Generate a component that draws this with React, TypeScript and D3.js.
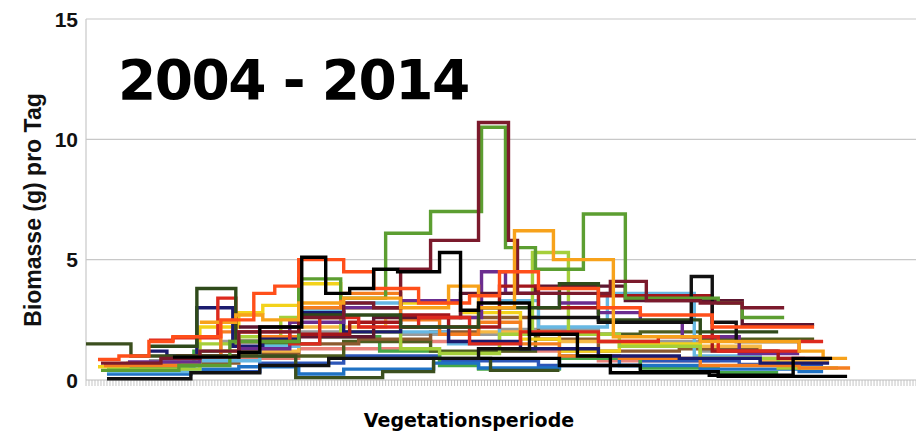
import React from 'react';
import * as d3 from 'd3';

// days of the vegetation period, biomass in g per day (step series, last point = end)
const yTicks = [0, 5, 10, 15];
const dayCount = 277;

const sOlive = [[0, 1.5], [15, 1.0], [70, 0.1], [99, 0.35], [116, 0.9], [135, 0.4], [158, 0.4]];
const sDarkGreen = [[21, 1.4], [37, 3.8], [50, 1.6], [71, 2.7], [105, 2.2], [131, 3.0], [158, 4.0], [171, 2.5], [205, 2.0], [231, 2.0]];
const sMaroon = [[5, 0.7], [25, 0.9], [38, 1.2], [51, 2.0], [71, 2.6], [86, 3.2], [96, 3.0], [105, 4.6], [115, 5.8], [131, 10.7], [141, 5.8], [144, 3.6], [175, 4.1], [187, 3.3], [205, 3.2], [219, 3.0], [233, 3.0]];
const sGreen = [[5, 0.4], [31, 0.6], [48, 1.6], [71, 4.2], [85, 3.4], [100, 6.1], [115, 7.0], [132, 10.5], [140, 5.5], [150, 4.6], [166, 6.9], [180, 3.4], [211, 3.2], [219, 2.6], [233, 2.6]];
const sOrange = [[38, 2.4], [50, 2.7], [59, 2.5], [71, 3.2], [86, 3.4], [105, 3.0], [121, 3.9], [131, 3.0], [143, 6.2], [156, 5.0], [176, 1.8], [205, 1.6], [238, 1.2], [246, 0.9], [254, 0.9]];
const sOrangeRed = [[4, 0.85], [11, 1.0], [21, 1.6], [29, 1.8], [45, 2.5], [56, 3.6], [63, 3.9], [71, 5.0], [86, 4.5], [96, 3.8], [111, 3.2], [128, 3.5], [138, 4.5], [151, 3.8], [171, 3.0], [185, 2.7], [209, 2.2], [243, 2.2]];
const sBlack = [[29, 0.95], [51, 1.15], [58, 2.2], [72, 5.1], [80, 3.6], [88, 3.8], [96, 4.6], [104, 4.5], [118, 5.3], [125, 2.9], [131, 3.2], [148, 1.9], [164, 1.0], [175, 0.3], [208, 0.2], [236, 0.9], [249, 0.9]];
const sBlack2 = [[7, 0.05], [35, 0.3], [58, 0.6], [81, 0.9], [131, 1.3], [148, 2.6], [171, 2.4], [202, 4.3], [209, 2.4], [217, 1.6], [238, 1.6]];
const sBlack3 = [[131, 0.9], [158, 0.6], [185, 0.35], [211, 0.15], [254, 0.15]];
const sNavy = [[21, 1.2], [27, 1.0], [37, 3.0], [49, 1.4], [59, 1.7], [71, 2.8], [86, 2.0], [105, 2.2], [121, 1.6], [145, 1.3], [171, 1.0], [198, 0.9], [225, 0.7], [248, 0.7]];
const sPurple = [[14, 0.75], [38, 1.0], [51, 1.3], [68, 2.4], [86, 3.0], [105, 3.3], [125, 2.6], [132, 4.5], [140, 3.6], [158, 3.2], [171, 2.8], [185, 2.4], [199, 1.8], [218, 1.1], [238, 1.1]];
const sBlue = [[7, 0.25], [35, 0.45], [51, 0.55], [71, 0.25], [86, 0.45], [116, 0.7], [131, 0.5], [158, 1.0], [178, 0.6], [205, 0.45], [238, 0.35], [246, 0.35]];
const sLightBlue = [[7, 0.35], [38, 0.8], [58, 1.4], [71, 2.9], [86, 3.2], [105, 2.0], [121, 1.5], [138, 3.3], [151, 2.2], [174, 3.6], [203, 1.0], [225, 0.6], [238, 0.6]];
const sYellow = [[4, 0.55], [14, 0.7], [38, 2.2], [51, 2.8], [59, 3.1], [71, 4.0], [85, 3.0], [105, 3.2], [125, 2.8], [145, 1.7], [158, 1.2], [178, 1.5], [205, 0.9], [225, 0.9]];
const sLightGreen = [[7, 0.45], [38, 1.5], [51, 1.8], [65, 2.6], [85, 2.0], [105, 1.3], [118, 1.1], [138, 1.9], [149, 5.3], [161, 1.9], [178, 1.4], [205, 0.9], [231, 0.5], [251, 0.5]];
const sRed = [[21, 1.65], [29, 1.75], [44, 3.4], [50, 2.0], [68, 1.5], [78, 2.6], [91, 2.2], [111, 2.6], [128, 1.5], [145, 2.0], [171, 1.6], [191, 1.8], [211, 1.2], [238, 1.6], [246, 1.6]];
const sDarkRed = [[30, 1.0], [51, 1.6], [71, 1.9], [88, 2.4], [105, 2.7], [121, 2.2], [138, 3.9], [151, 3.0], [171, 3.5], [209, 1.2], [231, 0.9], [246, 0.9]];
const sOrange2 = [[6, 0.6], [31, 1.0], [45, 2.0], [58, 1.8], [71, 3.0], [85, 3.6], [105, 2.5], [118, 1.9], [131, 2.4], [145, 1.5], [158, 1.0], [178, 0.9], [205, 0.6], [238, 0.5], [255, 0.5]];
const sGreen2 = [[14, 0.5], [36, 1.2], [58, 1.5], [78, 1.8], [98, 1.2], [118, 0.6], [131, 0.45], [158, 0.9], [185, 0.5], [211, 0.3], [231, 0.3]];
const sGray = [[21, 0.8], [45, 1.6], [71, 2.0], [105, 1.9], [138, 2.1], [171, 1.6], [205, 1.2], [231, 1.2]];
const sBrown = [[30, 0.7], [51, 1.1], [71, 1.5], [91, 1.7], [115, 2.0], [131, 2.6], [151, 1.7], [171, 1.2], [198, 1.3], [225, 1.3]];
const sAmber = [[45, 1.2], [71, 2.2], [100, 2.6], [131, 2.0], [158, 1.6], [191, 1.4], [225, 0.8], [248, 0.8]];
const sSalmon = [[38, 0.9], [71, 1.3], [105, 1.6], [138, 1.2], [171, 0.8], [211, 0.9], [240, 0.9]];
const sRoyal = [[21, 0.35], [58, 0.7], [86, 1.0], [118, 0.8], [151, 0.6], [185, 0.8], [218, 0.65], [246, 0.65]];
const sOlive2 = [[58, 1.0], [86, 1.6], [115, 1.2], [150, 1.9], [185, 2.0], [205, 1.7], [243, 1.7]];
const sWine = [[51, 2.2], [71, 1.8], [96, 2.6], [125, 3.6], [150, 3.9], [180, 3.3], [219, 2.3], [243, 2.3]];

// drawing order: first ones end up underneath
const series = [
  { data: sGray, color: '#9a9a9a' },
  { data: sSalmon, color: '#e9827a' },
  { data: sRoyal, color: '#2d56b8' },
  { data: sGreen2, color: '#46a847' },
  { data: sOlive2, color: '#4d5c1f' },
  { data: sBrown, color: '#8c5a2e' },
  { data: sAmber, color: '#f6b845' },
  { data: sBlue, color: '#1f72c4' },
  { data: sLightBlue, color: '#67b8e3' },
  { data: sYellow, color: '#f3d21b' },
  { data: sLightGreen, color: '#a5cf3a' },
  { data: sOrange2, color: '#f57f20' },
  { data: sNavy, color: '#1b1b6e' },
  { data: sPurple, color: '#6b2d8f' },
  { data: sWine, color: '#5e1730' },
  { data: sDarkRed, color: '#a3161b' },
  { data: sRed, color: '#dd2a1e' },
  { data: sDarkGreen, color: '#2f4a1a' },
  { data: sOlive, color: '#3b4f1e' },
  { data: sBlack3, color: '#000000' },
  { data: sBlack2, color: '#111111' },
  { data: sGreen, color: '#5c9e31' },
  { data: sMaroon, color: '#7b1a2c' },
  { data: sOrange, color: '#f7a21b' },
  { data: sOrangeRed, color: '#ff4f1a' },
  { data: sBlack, color: '#000000' },
];

const width = 916;
const height = 438;
const margin = { top: 19, right: 0, bottom: 58, left: 86 };

export default function App() {
  const x = d3.scaleLinear().domain([0, dayCount]).range([margin.left, width - margin.right]);
  const y = d3.scaleLinear().domain([0, 15]).range([height - margin.bottom, margin.top]);

  const line = d3
    .line<number[]>()
    .x(d => x(d[0]))
    .y(d => y(d[1]))
    .curve(d3.curveStepAfter);

  const dayTicks = d3.range(0, dayCount + 1);

  return (
    <svg
      width={width}
      height={height}
      style={{ position: 'absolute', left: 0, top: 0, background: '#fff' }}
    >
      {/* grid */}
      {yTicks.filter(t => t > 0).map(t => (
        <line key={t} x1={x(0)} x2={width} y1={y(t)} y2={y(t)} stroke="#c8c8c8" strokeWidth={1.2} />
      ))}
      <line x1={x(0)} x2={x(0)} y1={y(15)} y2={y(0)} stroke="#c8c8c8" strokeWidth={1.2} />

      {/* x axis ticks */}
      {dayTicks.map(d => (
        <line key={d} x1={x(d)} x2={x(d)} y1={y(0)} y2={y(0) + 6} stroke="#c4c4c4" strokeWidth={1} />
      ))}
      <line x1={x(0)} x2={width} y1={y(0)} y2={y(0)} stroke="#bdbdbd" strokeWidth={1.2} />

      {/* series */}
      {series.map((s, i) => (
        <path
          key={i}
          d={line(s.data) || ''}
          fill="none"
          stroke={s.color}
          strokeWidth={3.4}
          strokeLinejoin="miter"
        />
      ))}

      {/* y tick labels */}
      {yTicks.map(t => (
        <text
          key={t}
          x={x(0) - 8}
          y={y(t)}
          dy="0.36em"
          textAnchor="end"
          fontFamily="'Liberation Sans', Arial, sans-serif"
          fontWeight="bold"
          fontSize={21}
          fill="#111"
        >
          {t}
        </text>
      ))}

      {/* titles */}
      <text
        x={118}
        y={99}
        fontFamily="'Comic Sans MS', 'DejaVu Sans', sans-serif"
        fontWeight="bold"
        fontSize={55}
        letterSpacing={-1.5}
        fill="#000"
      >
        2004 - 2014
      </text>
      <text
        transform={`translate(41,${210}) rotate(-90)`}
        textAnchor="middle"
        fontFamily="'Liberation Sans', Arial, sans-serif"
        fontWeight="bold"
        fontSize={23}
        fill="#111"
      >
        Biomasse (g) pro Tag
      </text>
      <text
        x={469}
        y={427}
        textAnchor="middle"
        fontFamily="'Comic Sans MS', 'DejaVu Sans', sans-serif"
        fontWeight="bold"
        fontSize={19}
        fill="#000"
      >
        Vegetationsperiode
      </text>
    </svg>
  );
}
